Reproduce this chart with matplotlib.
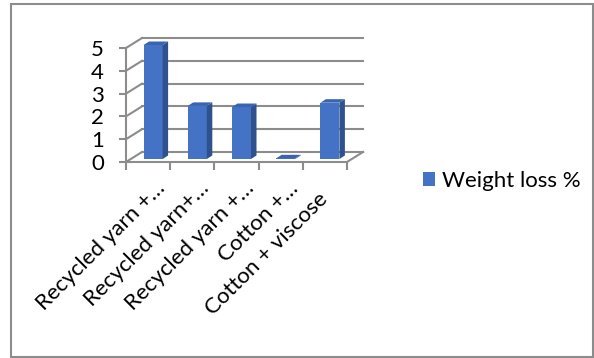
import numpy as np
import matplotlib
matplotlib.use("Agg")
import matplotlib.pyplot as plt
from matplotlib.patches import Rectangle
from matplotlib.transforms import ScaledTranslation

plt.rcParams['font.family'] = ['Lato', 'DejaVu Sans']

categories = ["Recycled yarn +…", "Recycled yarn+…", "Recycled yarn +…", "Cotton +…", "Cotton + viscose"]
weight_loss = [5.0, 2.33, 2.28, 0.03, 2.47]
series_name = "Weight loss %"
yticks = [0, 1, 2, 3, 4, 5]

W, H = 594, 358
GRAY = '#8c8c8c'
FRONT = '#4472C4'
SIDE = '#2F528F'
TOP = '#3A64B0'
FS = 16

fig = plt.figure(figsize=(W / 100, H / 100), dpi=100)

# front of the plot: x from 126 to 347 px, y0 at 162 px, y5 at 48 px
ax = fig.add_axes([126 / W, (H - 162) / H, 221 / W, 114 / H])
n = len(categories)
ax.set_xlim(-0.5, n - 0.5)
ax.set_ylim(0, 5)
ppx = 221 / n      # px per category
ppy = 114 / 5      # px per unit

# depth of the 3d box, in data units
DX, DY = 16 / ppx, 10 / ppy

# back wall grid and left wall diagonals
for v in yticks:
    ax.plot([-0.5 + DX, n - 0.5 + DX], [v + DY, v + DY], color=GRAY, lw=1.5, clip_on=False, zorder=1)
    ax.plot([-0.5, -0.5 + DX], [v, v + DY], color=GRAY, lw=1.5, clip_on=False, zorder=1)
ax.plot([n - 0.5, n - 0.5 + DX], [0, DY], color=GRAY, lw=1.5, clip_on=False, zorder=1)

# bars
x = np.arange(n)
bw = 0.43
sx, sy = 5 / ppx, 3 / ppy
bx, by = 5.5 / ppx, 3.5 / ppy
ax.bar(x + sx, weight_loss, width=bw, bottom=sy, color=FRONT, label=series_name,
       clip_on=False, zorder=3)
for xi, v in zip(x, weight_loss):
    l = xi + sx - bw / 2
    r = xi + sx + bw / 2
    ax.fill([r, r + bx, r + bx, r], [sy, sy + by, sy + v + by, sy + v], color=SIDE,
            clip_on=False, zorder=3, lw=0)
    ax.fill([l, l + bx, r + bx, r], [sy + v, sy + v + by, sy + v + by, sy + v], color=TOP,
            clip_on=False, zorder=3, lw=0)

for s in ['top', 'right']:
    ax.spines[s].set_visible(False)
for s in ['left', 'bottom']:
    ax.spines[s].set_color(GRAY)
    ax.spines[s].set_linewidth(1.5)
ax.patch.set_visible(False)

ax.set_yticks(yticks)
ax.tick_params(axis='y', length=5, width=1.5, color=GRAY, labelsize=FS, pad=11)
ax.set_xticks(np.arange(n + 1) - 0.5)
ax.set_xticklabels([])
ax.tick_params(axis='x', which='major', length=6, width=1.5, color=GRAY)
ax.set_xticks(x, minor=True)
ax.set_xticklabels(categories, minor=True, rotation=45, ha='right', va='center',
                   rotation_mode='anchor', fontsize=FS)
ax.tick_params(axis='x', which='minor', length=0, pad=0)
for i, lab in enumerate(ax.get_xticklabels(minor=True)):
    if lab.get_text().endswith('…'):
        off = ScaledTranslation(14 / 100, -23 / 100, fig.dpi_scale_trans)
    else:
        off = ScaledTranslation(0 / 100, -34 / 100, fig.dpi_scale_trans)
    lab.set_transform(lab.get_transform() + off)

ax.legend(loc='center left', bbox_to_anchor=(412 / W, 1 - 181 / H),
          bbox_transform=fig.transFigure, frameon=False, fontsize=FS,
          handlelength=0.55, handleheight=0.55, handletextpad=0.3, borderpad=0)

fig.patches.append(Rectangle((11 / W, 1 / H), 582 / W, 353 / H, transform=fig.transFigure,
                             fill=False, edgecolor=GRAY, lw=1.5))

fig.savefig('out.png', dpi=100)
